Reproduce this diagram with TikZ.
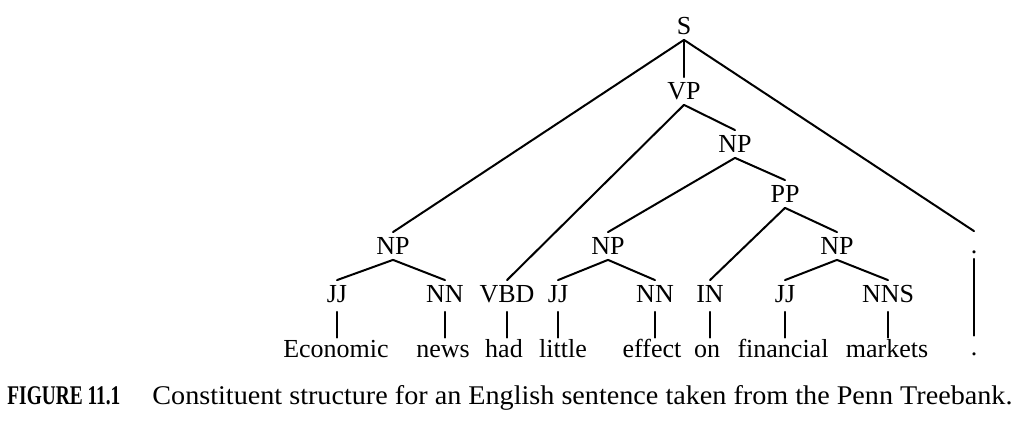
\documentclass[tikz,border=0pt]{standalone}
\usepackage{fontspec}
\setmainfont{Liberation Serif}
\usepackage{graphicx}
\begin{document}
\begin{tikzpicture}[x=0.5pt,y=-0.5pt,
  lbl/.style={font=\fontsize{13pt}{15pt}\selectfont, text height=9pt, text depth=0pt,
              inner xsep=0pt, inner ysep=2.25pt, anchor=base},
  wrd/.style={lbl, inner ysep=1pt},
  edge/.style={line width=1pt, line cap=round},
  leaf/.style={edge, shorten <=2pt}]
\useasboundingbox (0,0) rectangle (1023,431);
% phrase nodes
\node[lbl] (S)   at (684,35)  {S};
\node[lbl] (VP)  at (684,100) {VP};
\node[lbl] (NPa) at (393,255) {NP};
\node[lbl] (NPb) at (735,153) {NP};
\node[lbl] (PP)  at (785,203) {PP};
\node[lbl] (NPc) at (608,255) {NP};
\node[lbl] (NPd) at (837,255) {NP};
\node[lbl] (DOTt) at (974,254) {.};
% tags
\node[lbl] (JJa) at (337,303) {JJ};
\node[lbl] (NNa) at (445,303) {NN};
\node[lbl] (VBD) at (507,303) {VBD};
\node[lbl] (JJb) at (558,303) {JJ};
\node[lbl] (NNb) at (655,303) {NN};
\node[lbl] (IN)  at (710,303) {IN};
\node[lbl] (JJc) at (785,303) {JJ};
\node[lbl] (NNS) at (888,303) {NNS};
% words
\node[wrd] (w1) at (336,358) {Economic};
\node[wrd] (w2) at (443,358) {news};
\node[wrd] (w3) at (504,358) {had};
\node[wrd] (w4) at (563,358) {little};
\node[wrd] (w5) at (652,358) {effect};
\node[wrd] (w6) at (707,358) {on};
\node[wrd] (w7) at (783,358) {financial};
\node[wrd] (w8) at (887,358) {markets};
\node[wrd] (w9) at (974,356) {.};
% edges
\draw[edge] (S.south) -- (NPa.north);
\draw[edge] (S.south) -- (VP.north);
\draw[edge] (S.south) -- (DOTt.north);
\draw[edge] (VP.south) -- (VBD.north);
\draw[edge] (VP.south) -- (NPb.north);
\draw[edge] (NPb.south) -- (NPc.north);
\draw[edge] (NPb.south) -- (PP.north);
\draw[edge] (PP.south) -- (IN.north);
\draw[edge] (PP.south) -- (NPd.north);
\draw[edge] (NPa.south) -- (JJa.north);
\draw[edge] (NPa.south) -- (NNa.north);
\draw[edge] (NPc.south) -- (JJb.north);
\draw[edge] (NPc.south) -- (NNb.north);
\draw[edge] (NPd.south) -- (JJc.north);
\draw[edge] (NPd.south) -- (NNS.north);
\draw[leaf] (JJa.south) -- (JJa.south |- w1.north);
\draw[leaf] (NNa.south) -- (NNa.south |- w2.north);
\draw[leaf] (VBD.south) -- (VBD.south |- w3.north);
\draw[leaf] (JJb.south) -- (JJb.south |- w4.north);
\draw[leaf] (NNb.south) -- (NNb.south |- w5.north);
\draw[leaf] (IN.south) -- (IN.south |- w6.north);
\draw[leaf] (JJc.south) -- (JJc.south |- w7.north);
\draw[leaf] (NNS.south) -- (NNS.south |- w8.north);
\draw[edge] (DOTt.south) -- (DOTt.south |- w9.north);
% caption
\node[anchor=base west, inner sep=0pt, font=\fontsize{13.5pt}{15pt}\selectfont] (capa) at (7,405)
  {\resizebox{56.5pt}{\height}{\bfseries FIGURE 11.1}};
\node[anchor=base west, inner sep=0pt, font=\fontsize{13.5pt}{15pt}\selectfont] (capb) at (152,405)
  {\resizebox{430pt}{\height}{Constituent structure for an English sentence taken from the Penn Treebank.}};
\end{tikzpicture}
\end{document}
